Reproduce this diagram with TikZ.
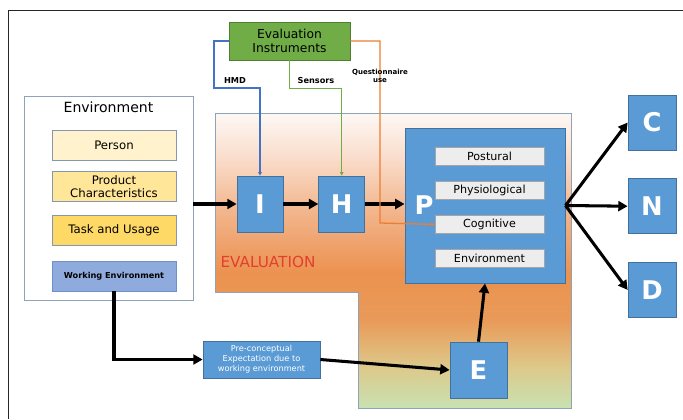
\documentclass[tikz,border=0pt]{standalone}
\usepackage{fontspec}
\setmainfont{DejaVu Sans}
\usetikzlibrary{shapes.geometric, arrows.meta, positioning, calc}

\definecolor{boxblue}{HTML}{5B9BD5}
\definecolor{boxedge}{HTML}{41719C}
\definecolor{framegray}{HTML}{8EA2B8}
\definecolor{factoredge}{HTML}{8497B0}
\definecolor{personfill}{HTML}{FFF2CC}
\definecolor{productfill}{HTML}{FFE699}
\definecolor{taskfill}{HTML}{FFD966}
\definecolor{workfill}{HTML}{8FAADC}
\definecolor{workedge}{HTML}{6F8FC8}
\definecolor{instgreen}{HTML}{70AD47}
\definecolor{instedge}{HTML}{507E32}
\definecolor{aspectfill}{HTML}{EDEDED}
\definecolor{aspectedge}{HTML}{A5A5A5}
\definecolor{hmdblue}{HTML}{4472C4}
\definecolor{quorange}{HTML}{ED7D31}
\definecolor{evalred}{HTML}{E2402F}
\definecolor{evgreen}{HTML}{C8E1B2}
\definecolor{evsand}{HTML}{DDC98A}
\definecolor{evorange}{HTML}{E99A58}
\definecolor{evdeep}{HTML}{EC9250}
\definecolor{evpeach}{HTML}{F2B48A}
\definecolor{evlight}{HTML}{FADFCF}
\definecolor{evwhite}{HTML}{FDF8F4}

\pgfdeclareverticalshading{evalshade}{100bp}{color(0bp)=(evgreen); color(25bp)=(evgreen); color(32bp)=(evsand); color(40bp)=(evorange); color(48bp)=(evdeep); color(58bp)=(evpeach); color(68bp)=(evlight); color(75bp)=(evwhite); color(100bp)=(evwhite)}

\begin{document}
\begin{tikzpicture}[
        x=0.03cm, y=-0.03cm,
        % Define styles for the different blocks
        envbox/.style={rectangle, draw=framegray, line width=0.8pt, fill=white, minimum width=5.07cm, minimum height=6.12cm, inner sep=0pt},
        factor/.style={rectangle, draw=factoredge, line width=0.6pt, minimum width=3.72cm, minimum height=0.9cm, inner sep=0pt, align=center, font=\fontsize{10}{11}\selectfont},
        instbox/.style={rectangle, draw=instedge, fill=instgreen, line width=0.8pt, minimum width=3.63cm, minimum height=1.14cm, inner sep=0pt, align=center, font=\fontsize{10.5}{12}\selectfont},
        stage/.style={rectangle, draw=boxedge, fill=boxblue, line width=0.6pt, minimum width=1.38cm, minimum height=1.68cm, inner sep=0pt, text=white, font=\fontsize{22}{24}\selectfont\bfseries},
        outcome/.style={stage, minimum width=1.44cm, minimum height=1.65cm},
        aspect/.style={rectangle, draw=aspectedge, fill=aspectfill, line width=0.6pt, minimum width=3.27cm, minimum height=0.54cm, inner sep=0pt, font=\fontsize{9.5}{10}\selectfont},
        probe/.style={font=\fontsize{7}{8}\selectfont\bfseries, align=center},
        line/.style={draw, -{Triangle[length=8pt, width=8.5pt]}, line width=2.6pt, color=black},
        wire/.style={draw, -{Triangle[length=3pt, width=3pt]}, line width=1.1pt}
    ]
    \useasboundingbox (0,0) rectangle (683,419);

    % --- Frame ---
    \draw[line width=0.6pt, color=black!85] (8,419) -- (8,10) -- (683,10);

    % --- Evaluation region ---
    \shade[shading=evalshade] (215,113) -- (571,113) -- (571,408) -- (358,408) -- (358,292) -- (215,292) -- cycle;
    \draw[framegray, line width=0.8pt] (215,113) -- (571,113) -- (571,408) -- (358,408) -- (358,292) -- (215,292) -- cycle;
    \node[text=evalred, font=\fontsize{13}{15}\selectfont] (evallabel) at (268,262) {EVALUATION};

    % --- Nodes ---
    % Environment
    \node[envbox] (env) at (108.5,198) {};
    \node[font=\fontsize{12}{14}\selectfont, below=0.06cm of env.north] (envtitle) {Environment};
    \node[factor, fill=personfill] (person) at (114,145) {Person};
    \node[factor, fill=productfill, below=0.33cm of person] (product) {Product\\Characteristics};
    \node[factor, fill=taskfill, below=0.39cm of product] (task) {Task and Usage};
    \node[factor, fill=workfill, draw=workedge, font=\fontsize{7}{8}\selectfont\bfseries, below=0.45cm of task] (work) {Working Environment};

    % Evaluation instruments
    \node[instbox] (instr) at (289.5,41) {Evaluation\\Instruments};

    % Stages
    \node[stage] (I) at (260,204) {I};
    \node[stage, right=1.05cm of I] (H) {H};

    % Person block with aspects
    \node[rectangle, draw=boxedge, fill=boxblue, line width=0.8pt, minimum width=4.8cm, minimum height=4.65cm] (pbox) at (485,205.5) {};
    \node[text=white, font=\fontsize{22}{24}\selectfont\bfseries] (P) at (424,205) {P};
    \node[aspect] (postural) at (489.5,156) {Postural};
    \node[aspect, below=0.48cm of postural] (physio) {Physiological};
    \node[aspect, below=0.45cm of physio] (cognitive) {Cognitive};
    \node[aspect, below=0.45cm of cognitive] (envaspect) {Environment};

    % Outcomes
    \node[outcome] (C) at (652,122.5) {C};
    \node[outcome, below=0.84cm of C] (N) {N};
    \node[outcome, below=0.84cm of N] (D) {D};

    % Expectation
    \node[stage, minimum width=1.71cm] (E) at (478.5,370) {E};
    \node[rectangle, draw=boxedge, fill=boxblue, line width=0.6pt, minimum width=3.51cm, minimum height=1.11cm, inner sep=0pt, align=center, text=white, font=\fontsize{7}{8.5}\selectfont] (pre) at (261.5,359.5) {Pre-conceptual\\Expectation due to\\working environment};

    % --- Edges (Arrows) ---
    \path[line] (I.west -| env.east) -- (I.west);
    \path[line] (I) -- (H);
    \path[line] (H.east) -- (H.east -| pbox.west);

    % Fan out to outcomes
    \path[line] (pbox.east) -- (C.west);
    \path[line] (pbox.east) -- (N.west);
    \path[line] (pbox.east) -- (D.west);

    % Working environment to expectation
    \path[line] (work.south) |- (pre.west);
    \path[line] (pre.east) -- (E.west);
    \path[line] (E.north) -- (pbox.south);

    % Instrument wires
    \coordinate (qturn) at (380,223);
    \path[wire, hmdblue] (instr.west) -| (214,88) -| (I.north);
    \path[wire, instgreen] (instr.south) -- ++(0,28) -| (H.north);
    \path[wire, quorange] (instr.east) -| (qturn) -- (cognitive.west);
    \node[probe] (hmd) at (235,81) {HMD};
    \node[probe] (sensors) at (316,81) {Sensors};
    \node[probe, font=\fontsize{6}{7}\selectfont\bfseries] (quest) at (380,76) {Questionnaire\\use};

\end{tikzpicture}
\end{document}
